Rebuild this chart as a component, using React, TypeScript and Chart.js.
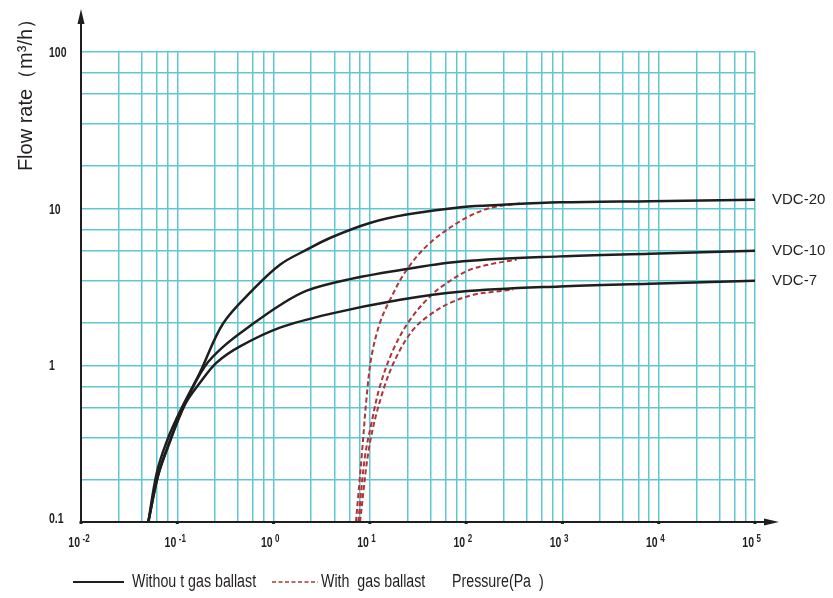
import React, { useEffect, useRef } from "react";
import { Chart, registerables } from "chart.js";

Chart.register(...registerables);

// ---- data ----
const vdc20P = [0.05, 0.0611, 0.0776, 0.107, 0.172, 0.299, 0.611, 1.165, 2.21, 3.85, 10.0, 24.1, 92.6, 241, 942, 8110, 100000];
const vdc20Q = [0.1, 0.205, 0.326, 0.51, 0.9, 1.85, 3.04, 4.39, 5.47, 6.5, 8.1, 9.17, 10.25, 10.6, 10.97, 11.17, 11.4];

const vdc10P = [0.05, 0.063, 0.08, 0.12, 0.192, 0.311, 0.611, 1.165, 2.21, 6.21, 24.1, 92.6, 942, 8110, 100000];
const vdc10Q = [0.1, 0.197, 0.306, 0.57, 0.98, 1.34, 1.84, 2.42, 3.0, 3.55, 4.12, 4.61, 4.96, 5.16, 5.39];

const vdc7P = [0.05, 0.063, 0.08, 0.12, 0.172, 0.256, 0.448, 1.165, 3.85, 20.6, 86.3, 942, 8110, 100000];
const vdc7Q = [0.1, 0.197, 0.301, 0.56, 0.773, 1.04, 1.32, 1.74, 2.13, 2.62, 2.95, 3.19, 3.32, 3.47];

const gas20P = [7.17, 8.22, 9.27, 10.4, 12.7, 16.2, 24.1, 42.1, 93.3, 177, 362];
const gas20Q = [0.1, 0.261, 0.633, 1.14, 1.86, 2.62, 4.07, 6.04, 8.53, 10.1, 10.8];

const gas10P = [7.58, 8.89, 10.4, 12.7, 17.5, 26.1, 42.1, 62.8, 109, 207, 334];
const gas10Q = [0.1, 0.261, 0.428, 0.733, 1.26, 1.95, 2.75, 3.35, 4.07, 4.5, 4.72];

const gas7P = [7.89, 10.0, 13.8, 19.0, 28.2, 42.1, 67.9, 119, 207, 308];
const gas7Q = [0.1, 0.318, 0.697, 1.14, 1.69, 2.1, 2.5, 2.82, 2.96, 3.04];

const seriesLabels = ["VDC-20", "VDC-10", "VDC-7"];
const labelQ = [11.4, 5.39, 3.47];

const xDecades = [-2, -1, 0, 1, 2, 3, 4, 5];
const xGridFractions = [2.46, 4.27, 6.15, 7.94, 10];
const yDecadeLabels = ["0.1", "1", "10", "100"];
const yDecadeValues = [0.1, 1, 10, 100];
const yGridFractions = [1.87, 3.47, 5.4, 7.35, 10];

const yTitle = "Flow rate（m³/h）";
const legendSolid = "Withou t gas ballast";
const legendDashed = "With  gas ballast";
const xTitle = "Pressure(Pa  )";

const BLACK = "#1e1e1e";
const RED = "#ad3438";
const GRID = "#5fc7d2";
const TEXT = "#231f20";
const NUMFONT = "'Liberation Sans', Arial, sans-serif";

function pts(p: number[], q: number[]) {
  return p.map((v, i) => ({ x: v, y: q[i] }));
}

function condensed(ctx: any, text: string, x: number, y: number, sx: number, align: string) {
  ctx.save();
  ctx.translate(x, y);
  ctx.scale(sx, 1);
  ctx.textAlign = align;
  ctx.fillText(text, 0, 0);
  ctx.restore();
}

const overlay = {
  id: "overlay",
  afterDraw(chart: any) {
    const ctx = chart.ctx;
    const xs = chart.scales.x;
    const ys = chart.scales.y;
    const left = xs.getPixelForValue(0.01);
    const bottom = ys.getPixelForValue(0.1);
    ctx.save();
    // axes
    ctx.strokeStyle = BLACK;
    ctx.fillStyle = BLACK;
    ctx.lineWidth = 2;
    ctx.beginPath();
    ctx.moveTo(left, bottom);
    ctx.lineTo(left, 14);
    ctx.moveTo(left, bottom);
    ctx.lineTo(772, bottom);
    ctx.stroke();
    // arrows
    ctx.beginPath();
    ctx.moveTo(left, 9);
    ctx.lineTo(left - 3.5, 24);
    ctx.lineTo(left + 3.5, 24);
    ctx.closePath();
    ctx.fill();
    ctx.beginPath();
    ctx.moveTo(779, bottom);
    ctx.lineTo(764, bottom - 3.5);
    ctx.lineTo(764, bottom + 3.5);
    ctx.closePath();
    ctx.fill();
    // decade dots
    for (const d of xDecades) {
      const px = xs.getPixelForValue(Math.pow(10, d));
      ctx.fillRect(px - 1.5, bottom - 1, 3, 3);
    }
    // y tick labels
    ctx.fillStyle = TEXT;
    ctx.font = "bold 15px " + NUMFONT;
    ctx.textBaseline = "middle";
    yDecadeValues.forEach((v, i) => {
      const py = ys.getPixelForValue(v);
      condensed(ctx, yDecadeLabels[i], 49, i === 0 ? py - 3 : py + 1, 0.7, "left");
    });
    // x tick labels with superscripts
    ctx.textBaseline = "alphabetic";
    for (const d of xDecades) {
      const px = xs.getPixelForValue(Math.pow(10, d));
      ctx.font = "bold 15px " + NUMFONT;
      condensed(ctx, "10", px - 1, 547, 0.7, "right");
      ctx.font = "bold 10px " + NUMFONT;
      const sup = d < 0 ? "-" + Math.abs(d) : String(d);
      condensed(ctx, sup, px + 1.5, 542, 0.8, "left");
    }
    // y title
    ctx.save();
    ctx.translate(32, 90);
    ctx.rotate(-Math.PI / 2);
    ctx.font = "20px 'Liberation Sans', Arial, sans-serif";
    ctx.textAlign = "center";
    ctx.textBaseline = "alphabetic";
    ctx.fillStyle = TEXT;
    ctx.fillText(yTitle, 0, 0);
    ctx.restore();
    // series labels
    ctx.font = "15px 'Liberation Sans', Arial, sans-serif";
    ctx.textAlign = "left";
    ctx.textBaseline = "middle";
    ctx.fillStyle = TEXT;
    seriesLabels.forEach((s, i) => {
      ctx.fillText(s, 772, ys.getPixelForValue(labelQ[i]));
    });
    // legend
    const ly = 582;
    ctx.strokeStyle = BLACK;
    ctx.lineWidth = 2;
    ctx.setLineDash([]);
    ctx.beginPath();
    ctx.moveTo(73, ly);
    ctx.lineTo(124, ly);
    ctx.stroke();
    ctx.font = "18px 'Liberation Sans', Arial, sans-serif";
    ctx.textBaseline = "middle";
    condensed(ctx, legendSolid, 132, ly, 0.79, "left");
    ctx.strokeStyle = RED;
    ctx.lineWidth = 1.5;
    ctx.setLineDash([4, 2.5]);
    ctx.beginPath();
    ctx.moveTo(272, ly);
    ctx.lineTo(318, ly);
    ctx.stroke();
    ctx.setLineDash([]);
    condensed(ctx, legendDashed, 321, ly, 0.79, "left");
    condensed(ctx, xTitle, 452, ly, 0.79, "left");
    ctx.restore();
  },
};

export default function App() {
  const ref = useRef<HTMLCanvasElement>(null);
  useEffect(() => {
    if (!ref.current) return;
    const solid = (p: number[], q: number[]) => ({
      data: pts(p, q),
      borderColor: BLACK,
      borderWidth: 2.5,
      pointRadius: 0,
      tension: 0.35,
      fill: false,
    });
    const dashed = (p: number[], q: number[]) => ({
      data: pts(p, q),
      borderColor: RED,
      borderWidth: 2,
      borderDash: [5, 3],
      pointRadius: 0,
      tension: 0.35,
      fill: false,
    });
    const chart = new Chart(ref.current, {
      type: "line",
      data: {
        datasets: [
          solid(vdc20P, vdc20Q),
          solid(vdc10P, vdc10Q),
          solid(vdc7P, vdc7Q),
          dashed(gas20P, gas20Q),
          dashed(gas10P, gas10Q),
          dashed(gas7P, gas7Q),
        ] as any,
      },
      options: {
        animation: false,
        responsive: false,
        devicePixelRatio: 1,
        layout: { padding: { left: 81, right: 78, top: 52, bottom: 76 } },
        plugins: { legend: { display: false }, tooltip: { enabled: false } },
        scales: {
          x: {
            type: "logarithmic",
            min: 0.01,
            max: 100000,
            border: { display: false },
            grid: { color: GRID, lineWidth: 1.5, drawTicks: false },
            ticks: { display: false },
            afterBuildTicks: (scale: any) => {
              const t: { value: number }[] = [];
              for (let d = -2; d < 5; d++) {
                for (const f of xGridFractions) t.push({ value: Math.pow(10, d) * f });
              }
              scale.ticks = t;
            },
          },
          y: {
            type: "logarithmic",
            min: 0.1,
            max: 100,
            border: { display: false },
            grid: { color: GRID, lineWidth: 1.5, drawTicks: false },
            ticks: { display: false },
            afterBuildTicks: (scale: any) => {
              const t: { value: number }[] = [];
              for (let d = -1; d < 2; d++) {
                for (const f of yGridFractions) t.push({ value: Math.pow(10, d) * f });
              }
              scale.ticks = t;
            },
          },
        },
      } as any,
      plugins: [overlay],
    });
    return () => chart.destroy();
  }, []);
  return (
    <div style={{ position: "fixed", left: 0, top: 0, width: 833, height: 598, background: "#fff" }}>
      <canvas ref={ref} width={833} height={598} style={{ display: "block" }} />
    </div>
  );
}
